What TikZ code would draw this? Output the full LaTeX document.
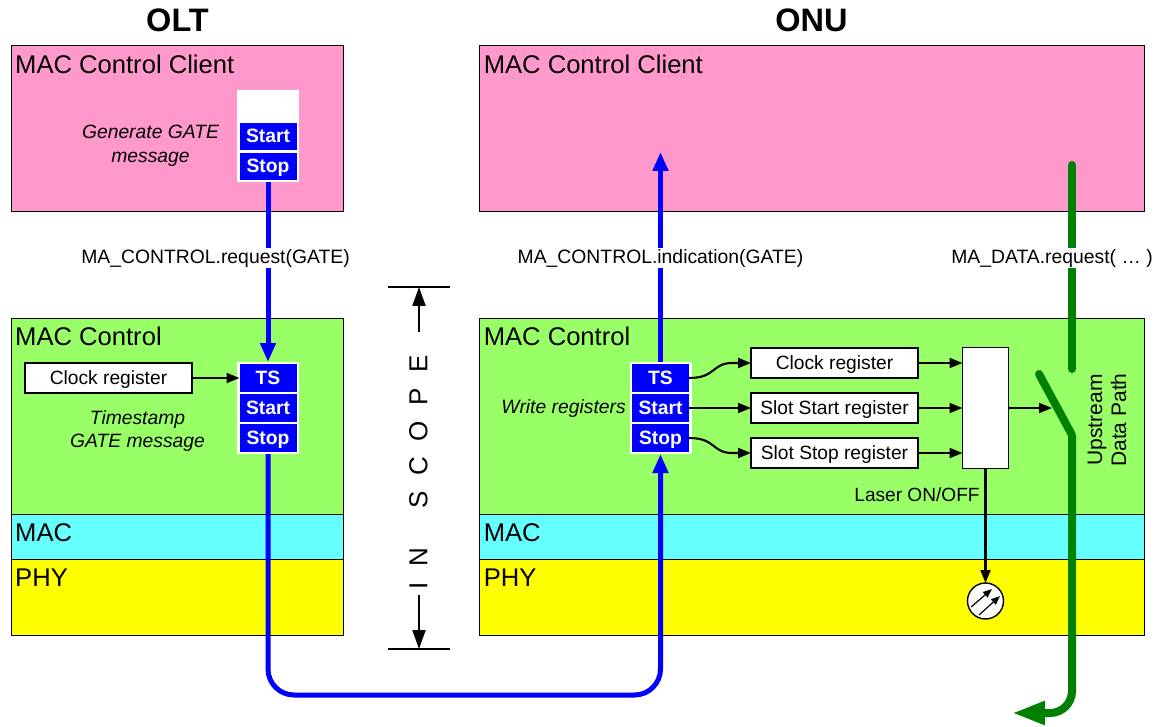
\documentclass[tikz,border=0pt]{standalone}
\usepackage{fontspec}
\setmainfont{Liberation Sans}
\usetikzlibrary{arrows.meta,positioning}
\newcommand{\fs}[1]{\fontsize{#1}{#1}\selectfont}
\definecolor{pinkc}{HTML}{FF99CC}
\definecolor{greenc}{HTML}{99FF66}
\definecolor{cyanc}{HTML}{66FFFF}
\definecolor{yellowc}{HTML}{FFFF00}
\definecolor{bluec}{HTML}{0000FF}
\definecolor{dgreen}{HTML}{008000}
\tikzset{
  layer/.style={draw=black,line width=1pt,inner sep=0pt,outer sep=0pt},
  layertext/.style={anchor=base west,inner sep=0pt,font=\fs{25.6}},
  title/.style={inner sep=0pt,font=\fs{32.5}\bfseries},
  stack/.style={draw=none,fill=white,inner sep=0pt,outer sep=0pt,minimum width=62pt},
  cell/.style={fill=bluec,text=white,inner sep=0pt,outer sep=0pt,minimum width=57pt,minimum height=27.5pt,text height=15pt,text depth=2pt,font=\fs{19.3}\bfseries},
  reg/.style={draw=black,fill=white,line width=1.4pt,inner sep=0pt,outer sep=0pt,minimum height=30pt,text height=15pt,text depth=2.5pt,font=\fs{19.2}},
  note/.style={inner sep=0pt,align=center,font=\fs{19.3}\itshape},
  sig/.style={fill=white,inner sep=1pt,font=\fs{19.35}},
  blk/.style={line width=2.1pt,draw=black,-{Triangle[length=13pt,width=10pt]}},
  blu/.style={line width=5pt,draw=bluec,-{Triangle[length=19pt,width=15pt]}},
  grn/.style={line width=8pt,draw=dgreen}
}
\begin{document}
\begin{tikzpicture}[x=1pt,y=-1pt]
\useasboundingbox (0,0) rectangle (1159,727);
% layers left
\node[layer,fill=pinkc,minimum width=332.5pt,minimum height=166pt] (lclient) at (177.3,128.5) {};
\node[layer,fill=greenc,minimum width=332.5pt,minimum height=196pt] (lctl) at (177.3,416) {};
\node[layer,fill=cyanc,minimum width=332.5pt,minimum height=45pt] (lmac) at (177.3,536.5) {};
\node[layer,fill=yellowc,minimum width=332.5pt,minimum height=76pt] (lphy) at (177.3,597) {};
% layers right
\node[layer,fill=pinkc,minimum width=665pt,minimum height=166pt] (rclient) at (811.5,128.5) {};
\node[layer,fill=greenc,minimum width=665pt,minimum height=196pt] (rctl) at (811.5,416) {};
\node[layer,fill=cyanc,minimum width=665pt,minimum height=45pt] (rmac) at (811.5,536.5) {};
\node[layer,fill=yellowc,minimum width=665pt,minimum height=76pt] (rphy) at (811.5,597) {};
% titles
\node[title] (tolt) at (177.5,20) {OLT};
\node[title] (tonu) at (811.5,20) {ONU};
% layer text
\node[layertext] (t1) at (15,74) {MAC Control Client};
\node[layertext] (t2) at (15,345) {MAC Control};
\node[layertext] (t3) at (15,541) {MAC};
\node[layertext] (t4) at (15,586) {PHY};
\node[layertext] (t5) at (483.6,74) {MAC Control Client};
\node[layertext] (t6) at (483.6,345) {MAC Control};
\node[layertext] (t7) at (483.6,541) {MAC};
\node[layertext] (t8) at (483.6,586) {PHY};
% green data path
\coordinate (gtop) at (1072,165);
\coordinate (gmid) at (1072,369);
\coordinate (swa) at (1039,374);
\coordinate (swb) at (1072,435);
\coordinate (gbend) at (1072,713);
\coordinate (gend) at (1012,713);
\draw[grn,line cap=round] (gtop) -- (gmid);
\draw[grn,-{Triangle[length=33pt,width=22pt]},rounded corners=22pt] (swb) -- (gbend) -- (gend);
\draw[grn,line cap=round,line join=round] (swa) -- (swb);
% stacks
\node[stack,minimum height=92pt] (s1) at (268,136) {};
\node[cell] (s1a) at (268,136.5) {Start};
\node[cell] (s1b) at (268,166.5) {Stop};
\node[stack,minimum height=92pt] (s2) at (268,408) {};
\node[cell] (s2a) at (268,378) {TS};
\node[cell] (s2b) at (268,408) {Start};
\node[cell] (s2c) at (268,438) {Stop};
\node[stack,minimum height=92pt] (s3) at (660.5,408) {};
\node[cell] (s3a) at (660.5,378) {TS};
\node[cell] (s3b) at (660.5,408) {Start};
\node[cell] (s3c) at (660.5,438) {Stop};
% blue
\coordinate (bl) at (268,695);
\coordinate (br) at (660.5,695);
\draw[blu] (s1.south) -- (s2.north);
\draw[blu] (s3.north) -- (660.5,152);
\draw[blu,rounded corners=26pt] (s2.south) -- (bl) -- (br) -- (s3.south);
% registers
\node[reg,minimum width=167pt] (lclk) at (108.5,378) {Clock register};
\node[reg,minimum width=167pt] (rclk) at (834.5,363) {Clock register};
\node[reg,minimum width=167pt] (rsta) at (834.5,408) {Slot Start register};
\node[reg,minimum width=167pt] (rsto) at (834.5,453) {Slot Stop register};
\node[reg,minimum width=46pt,minimum height=121pt] (mux) at (985.5,408) {};
\coordinate (swin) at (1052,408);
\draw[blk] (lclk.east) -- (s2a.west);
\draw[blk] (s3b.east) -- (rsta.west);
\draw[blk] (s3a.east) .. controls (716,378) and (712,363) .. (732,363) -- (rclk.west);
\draw[blk] (s3c.east) .. controls (716,438) and (712,453) .. (732,453) -- (rsto.west);
\draw[blk] (rclk.east) -- (rclk.east -| mux.west);
\draw[blk] (rsta.east) -- (mux.west);
\draw[blk] (rsto.east) -- (rsto.east -| mux.west);
\draw[blk] (mux.east) -- (swin);
% laser
\node[draw=black,fill=white,line width=1.4pt,circle,minimum size=36pt,inner sep=0pt,outer sep=0pt] (laser) at (985.5,601) {};
\draw[blk] (mux.south) -- (laser.north);
\coordinate (la1) at (971,607);
\coordinate (la2) at (992,589);
\coordinate (lb1) at (979,615);
\coordinate (lb2) at (1000,596);
\draw[line width=1.2pt,-{Triangle[length=9pt,width=7pt]}] (la1) -- (la2);
\draw[line width=1.2pt,-{Triangle[length=9pt,width=7pt]}] (lb1) -- (lb2);
% notes
\node[note] (n1) at (150.5,146) {Generate GATE\\[5pt]message};
\node[note] (n2) at (137.5,431) {Timestamp\\[4pt]GATE message};
\node[note] (n3) at (563.5,409) {Write registers};
\node[inner sep=0pt,font=\fs{19.1}] (n4) at (917,495) {Laser ON/OFF};
% signal labels
\node[sig] (m1) at (215.5,258) {MA\_CONTROL.request(GATE)};
\node[sig] (m2) at (660.5,258) {MA\_CONTROL.indication(GATE)};
\node[sig] (m3) at (1052,258) {MA\_DATA.request( … )};
% upstream
\node[rotate=90,align=center,inner sep=0pt,font=\fs{21}] (up) at (1107,420) {Upstream\\[3pt]Data Path};
% in scope
\coordinate (st1) at (388,287);
\coordinate (st2) at (450,287);
\coordinate (sb1) at (388,649);
\coordinate (sb2) at (450,649);
\draw[line width=1.5pt] (st1) -- (st2);
\draw[line width=1.5pt] (sb1) -- (sb2);
\node[rotate=90,inner sep=0pt,font=\fs{26}] (scope) at (418.5,472) {\addfontfeature{LetterSpace=60}IN\hspace{39pt}SCOPE};
\draw[line width=2pt,-{Triangle[length=19pt,width=13pt]}] (419,332) -- (419,287);
\draw[line width=2pt,-{Triangle[length=19pt,width=13pt]}] (419,595) -- (419,649);
\end{tikzpicture}
\end{document}
